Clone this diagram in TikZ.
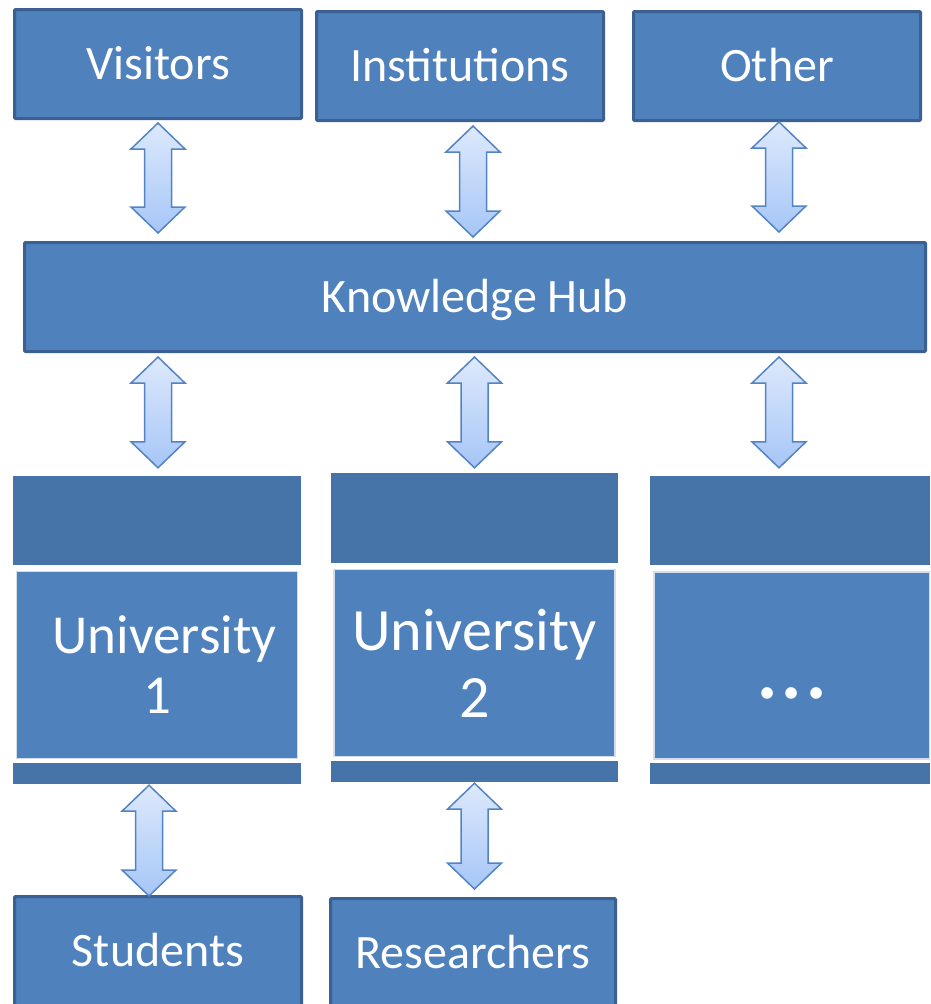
\documentclass[tikz,border=0pt]{standalone}
\usepackage{fontspec}
\setmainfont{Carlito}
\usetikzlibrary{calc}

\definecolor{boxfill}{HTML}{4F81BD}
\definecolor{boxline}{HTML}{3A6094}
\definecolor{unihead}{HTML}{4774A8}
\definecolor{uniedge}{HTML}{D3DEEC}
\definecolor{arrowtop}{HTML}{DDE9FC}
\definecolor{arrowbot}{HTML}{A6C6F7}
\definecolor{arrowline}{HTML}{5284C4}

\tikzset{
  box/.style={draw=boxline, line width=3pt, fill=boxfill, text=white, rounded corners=1pt,
    minimum width=287pt, minimum height=109pt, inner sep=0pt,
    font=\fontsize{48}{57}\selectfont, text height=30.9pt, text depth=0pt},
  unibar/.style={fill=unihead, minimum width=288pt, inner sep=0pt},
  unibox/.style={draw=uniedge, line width=1.2pt, fill=boxfill, text=white, align=center,
    minimum width=281pt, minimum height=187pt, inner sep=0pt},
  twoway/.style={draw=arrowline, line width=1.5pt, top color=arrowtop, bottom color=arrowbot}
}

% #1 gives the x, #2 the top tip, #3 the bottom tip
\newcommand\twoway[3]{%
  \draw[twoway] let \p1=#1, \p2=#2, \p3=#3 in
    (\x1,\y2) -- (\x1+27pt,\y2-26pt) -- (\x1+13.5pt,\y2-26pt) -- (\x1+13.5pt,\y3+26pt)
    -- (\x1+27pt,\y3+26pt) -- (\x1,\y3) -- (\x1-27pt,\y3+26pt) -- (\x1-13.5pt,\y3+26pt)
    -- (\x1-13.5pt,\y2-26pt) -- (\x1-27pt,\y2-26pt) -- cycle;}

\begin{document}
\begin{tikzpicture}[x=1pt,y=1pt]
\useasboundingbox (0,0) rectangle (930,-1004);
\clip (0,0) rectangle (930,-1004);

\node[box] (vis) at (158,-64) {Visitors};
\node[box] (inst) at (460,-66) {Institutions};
\node[box] (other) at (777,-66) {Other};
\node[box, minimum width=901pt] (hub) at (475,-297) {Knowledge Hub};

\node[unibar, minimum height=89pt] (uni1head) at (157,-520.5) {};
\node[unibox, font=\fontsize{55}{60}\selectfont] (uni1) at (157,-665) {\hspace*{15pt}University\\1};
\node[unibar, minimum height=21pt] (uni1bar) at (157,-773.5) {};

\node[unibar, minimum width=287pt, minimum height=90pt] (uni2head) at (474.5,-518) {};
\node[unibox, font=\fontsize{60}{67}\selectfont] (uni2) at (474.5,-663) {University\\2};
\node[unibar, minimum width=287pt, minimum height=21pt] (uni2bar) at (474.5,-771.5) {};

\node[unibar, minimum width=280pt, minimum height=89pt] (uni3head) at (790,-520.5) {};
\node[unibox, minimum width=276pt, font=\fontsize{96}{100}\selectfont,
  text height=66pt, text depth=0pt] (uni3) at (792,-665.5) {...};
\node[unibar, minimum width=280pt, minimum height=21pt] (uni3bar) at (790,-773.5) {};

\node[box] (stud) at (158,-951) {Students};
\node[box, minimum width=285pt] (res) at (473,-953) {Researchers};

% up to the hub
\twoway{(vis)}{([yshift=-3pt]vis.south)}{([yshift=8pt]hub.north)}
\twoway{([xshift=13pt]inst)}{([yshift=-4pt]inst.south)}{([yshift=4pt]hub.north)}
\twoway{([xshift=2pt]other)}{(other.south)}{([yshift=9pt]hub.north)}
% hub down to the universities
\twoway{(vis)}{([yshift=-4pt]hub.south)}{([yshift=8pt]uni1head.north)}
\twoway{(uni2)}{([yshift=-4pt]hub.south)}{([yshift=5pt]uni2head.north)}
\twoway{([xshift=2pt]other)}{([yshift=-4pt]hub.south)}{([yshift=8pt]uni3head.north)}
% universities down to their people
\twoway{([xshift=-8pt]uni1bar)}{([yshift=-1pt]uni1bar.south)}{([yshift=-1pt]stud.north)}
\twoway{(uni2bar)}{([yshift=-1pt]uni2bar.south)}{([yshift=8pt]res.north)}
\end{tikzpicture}
\end{document}
